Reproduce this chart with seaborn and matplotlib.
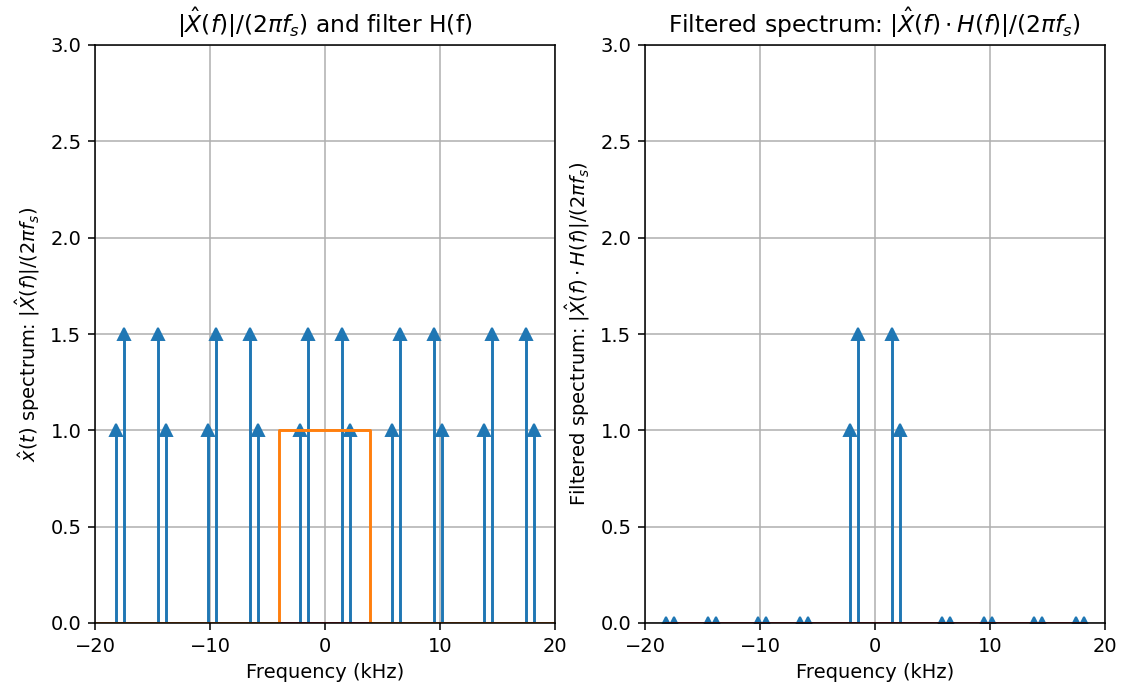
import numpy as np
import matplotlib
matplotlib.use("Agg")
import matplotlib.pyplot as plt
import pandas as pd
import seaborn as sns

# spectrum lines (kHz) and their heights
freqs = [-18.2, -17.5, -14.5, -13.8, -10.2, -9.5, -6.5, -5.8, -2.2, -1.5,
         1.5, 2.2, 5.8, 6.5, 9.5, 10.2, 13.8, 14.5, 17.5, 18.2]
amp_in = [1.0, 1.5, 1.5, 1.0, 1.0, 1.5, 1.5, 1.0, 1.0, 1.5,
          1.5, 1.0, 1.0, 1.5, 1.5, 1.0, 1.0, 1.5, 1.5, 1.0]
amp_out = [0.0, 0.0, 0.0, 0.0, 0.0, 0.0, 0.0, 0.0, 1.0, 1.5,
           1.5, 1.0, 0.0, 0.0, 0.0, 0.0, 0.0, 0.0, 0.0, 0.0]

# ideal low-pass filter outline
filt_f = [-20, -4.0, -4.0, 3.9, 3.9, 20]
filt_h = [0, 0, 1, 1, 0, 0]

W, H = 1122, 688
fig, (ax1, ax2) = plt.subplots(1, 2, figsize=(W / 140, H / 140), dpi=140)
ax1.set_position([95 / W, 1 - 623 / H, 460 / W, 578 / H])
ax2.set_position([645 / W, 1 - 623 / H, 460 / W, 578 / H])


def spectrum(ax, amps):
    ax.stem(freqs, amps, linefmt='C0-', markerfmt='C0^', basefmt='C3-')
    ax.set_xlim(-20, 20)
    ax.set_ylim(0, 3)
    ax.set_xticks([-20, -10, 0, 10, 20])
    ax.grid(True)
    ax.set_xlabel('Frequency (kHz)')


spectrum(ax1, amp_in)
df = pd.DataFrame({'f': filt_f, 'H': filt_h})
sns.lineplot(data=df, x='f', y='H', ax=ax1, color='C1', linewidth=1.5, sort=False,
             estimator=None)
ax1.set_xlabel('Frequency (kHz)')
ax1.set_ylabel(r'$\hat{x}(t)$ spectrum: $|\hat{X}(f)|/(2\pi f_s)$')
ax1.set_title(r'$|\hat{X}(f)|/(2\pi f_s)$ and filter H(f)')

spectrum(ax2, amp_out)
ax2.set_ylabel(r'Filtered spectrum: $|\hat{X}(f) \cdot H(f)|/(2\pi f_s)$')
ax2.set_title(r'Filtered spectrum: $|\hat{X}(f) \cdot H(f)|/(2\pi f_s)$')

fig.savefig('out.png', dpi=140)
